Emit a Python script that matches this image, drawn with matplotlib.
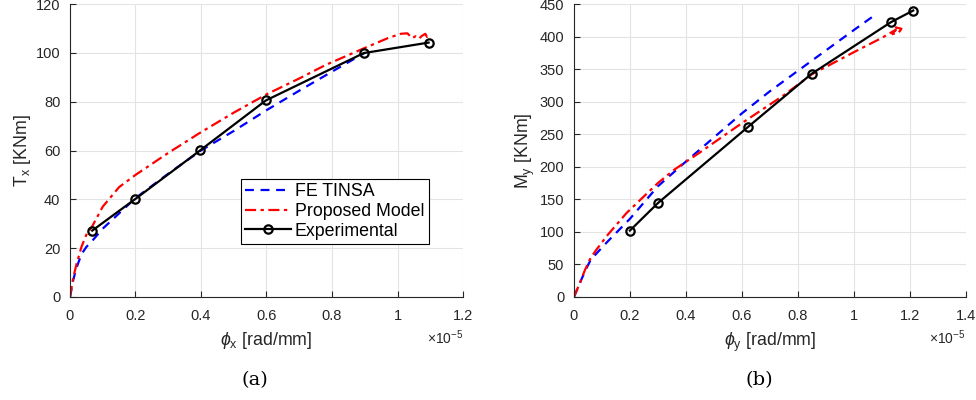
import numpy as np
import matplotlib.pyplot as plt

plt.rcParams['font.family'] = ['Liberation Sans', 'DejaVu Sans']
plt.rcParams['mathtext.fontset'] = 'custom'
plt.rcParams['mathtext.it'] = 'Liberation Sans:italic'
plt.rcParams['mathtext.rm'] = 'Liberation Sans'

# curvature values in units of 1e-5 rad/mm
# (a) torsion
phi_x_fe = [0.0, 0.01, 0.02, 0.035, 0.05, 0.068, 0.1, 0.2, 0.3, 0.4, 0.5, 0.6, 0.7, 0.8, 0.9]
T_x_fe = [0.0, 7.0, 12.0, 17.5, 20.5, 23.0, 28.0, 40.5, 50.5, 60.0, 68.0, 76.5, 84.5, 92.3, 100.0]
phi_x_pm = [0.0, 0.01, 0.02, 0.035, 0.05, 0.068, 0.1, 0.15, 0.2, 0.3, 0.4, 0.5, 0.6, 0.7, 0.78, 0.9,
            0.97, 1.01, 1.03, 1.045, 1.055, 1.065, 1.075, 1.085, 1.09, 1.095]
T_x_pm = [0.0, 8.0, 13.5, 20.5, 25.5, 29.0, 37.0, 45.0, 50.0, 59.0, 67.5, 75.5, 83.0, 89.5, 95.0, 102.0,
          106.0, 107.8, 108.0, 106.0, 106.8, 105.8, 107.0, 107.8, 106.5, 107.5]
phi_x_exp = [0.068, 0.2, 0.398, 0.598, 0.897, 1.095]
T_x_exp = [27.2, 40.2, 60.1, 80.5, 99.9, 104.2]

# (b) bending
phi_y_fe = [0.0, 0.02, 0.04, 0.06, 0.081, 0.12, 0.2, 0.3, 0.4, 0.5, 0.6, 0.7, 0.85, 1.0, 1.075]
M_y_fe = [0.0, 20.0, 40.0, 57.0, 67.0, 85.0, 120.0, 170.0, 208.0, 245.0, 282.0, 316.0, 363.0, 410.0, 433.0]
phi_y_pm = [0.0, 0.02, 0.04, 0.06, 0.081, 0.12, 0.188, 0.3, 0.36, 0.45, 0.6, 0.75, 0.85, 1.0,
            1.1, 1.14, 1.15, 1.13, 1.16, 1.17, 1.15, 1.165]
M_y_pm = [0.0, 20.0, 42.0, 60.0, 73.0, 95.0, 129.0, 175.0, 196.0, 222.0, 267.0, 310.0, 342.0, 376.0,
          398.0, 408.0, 410.0, 403.0, 406.0, 412.0, 414.0, 408.0]
phi_y_exp = [0.2, 0.301, 0.623, 0.849, 1.132, 1.212]
M_y_exp = [102.0, 144.6, 261.6, 342.8, 422.0, 440.0]

ax_col = (0.15, 0.15, 0.15)
fig = plt.figure(figsize=(9.76, 4.0), dpi=100)
axa = fig.add_axes([0.0717, 0.2575, 0.4027, 0.7325])
axb = fig.add_axes([0.588, 0.2575, 0.4016, 0.7325])


def style(ax, xmax, ymax, ystep):
    ax.set_xlim(0, xmax)
    ax.set_ylim(0, ymax)
    ax.set_xticks(np.arange(0, xmax + 0.01, 0.2))
    ax.set_xticklabels([('%g' % v) for v in np.arange(0, xmax + 0.01, 0.2).round(1)])
    ax.set_yticks(np.arange(0, ymax + 1, ystep))
    ax.grid(True, color='#e3e3e3', linewidth=0.8)
    ax.set_axisbelow(True)
    for s in ['top', 'right']:
        ax.spines[s].set_visible(False)
    for s in ['left', 'bottom']:
        ax.spines[s].set_color(ax_col)
        ax.spines[s].set_linewidth(0.8)
    ax.tick_params(direction='in', length=4, colors=ax_col, labelsize=10.5, pad=7)
    ax.tick_params(axis='x', pad=9)
    ax.text(xmax, -0.14 * ymax, r'$\times$10$^{\mathregular{-5}}$', ha='right', va='center',
            fontsize=10, color=ax_col)


axa.plot(phi_x_fe, T_x_fe, '--', color='#0000ff', lw=1.6, dashes=(4, 3), label='FE TINSA')
axa.plot(phi_x_pm, T_x_pm, '-.', color='#ff0000', lw=1.6, dashes=(5, 2, 1.5, 2), label='Proposed Model')
axa.plot(phi_x_exp, T_x_exp, '-o', color='black', lw=1.6, ms=6, mfc='none', mew=1.6,
         label='Experimental')
style(axa, 1.2, 120, 20)
axa.set_xlabel(r'$\phi_{\mathregular{x}}$ [rad/mm]', fontsize=12.8, color=ax_col, labelpad=5)
axa.set_ylabel(r'T$_{\mathregular{x}}$ [KNm]', fontsize=12.8, color=ax_col, labelpad=2)
leg = axa.legend(loc='lower right', bbox_to_anchor=(0.913, 0.181), fontsize=12.8,
                 fancybox=False, framealpha=1, edgecolor='black', handlelength=2.6,
                 handletextpad=0.2, borderpad=0.25, labelspacing=0.15, borderaxespad=0)
leg.get_frame().set_linewidth(0.8)

axb.plot(phi_y_fe, M_y_fe, '--', color='#0000ff', lw=1.6, dashes=(4, 3))
axb.plot(phi_y_pm, M_y_pm, '-.', color='#ff0000', lw=1.6, dashes=(5, 2, 1.5, 2))
axb.plot(phi_y_exp, M_y_exp, '-o', color='black', lw=1.6, ms=6, mfc='none', mew=1.6)
style(axb, 1.4, 450, 50)
axb.set_xlabel(r'$\phi_{\mathregular{y}}$ [rad/mm]', fontsize=12.8, color=ax_col, labelpad=5)
axb.set_ylabel(r'M$_{\mathregular{y}}$ [KNm]', fontsize=12.8, color=ax_col, labelpad=2)

fig.text(0.261, 0.05, '(a)', family='DejaVu Serif', fontsize=14, ha='center', va='center')
fig.text(0.778, 0.05, '(b)', family='DejaVu Serif', fontsize=14, ha='center', va='center')

fig.savefig('out.png', dpi=100)
